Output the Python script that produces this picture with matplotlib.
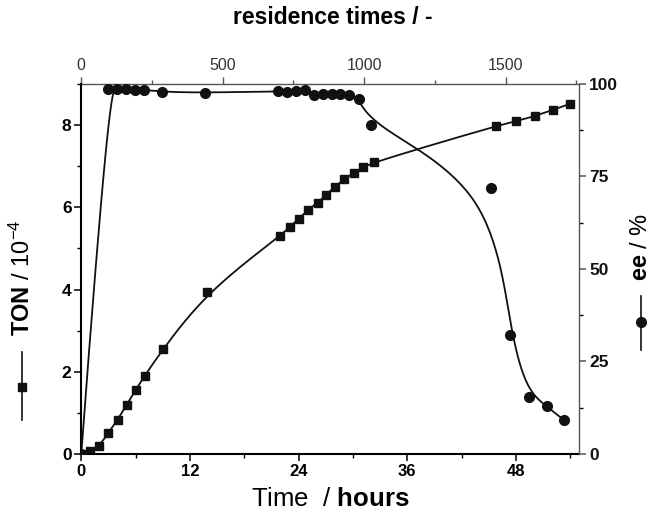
import numpy as np
import matplotlib

matplotlib.use("Agg")
import matplotlib.pyplot as plt  # noqa: E402
from matplotlib.lines import Line2D  # noqa: E402
from matplotlib.ticker import MultipleLocator  # noqa: E402

plt.rcParams["font.family"] = "Liberation Sans"
plt.rcParams["mathtext.fontset"] = "custom"
plt.rcParams["mathtext.rm"] = "Liberation Sans"
plt.rcParams["mathtext.bf"] = "Liberation Sans:bold"
plt.rcParams["mathtext.it"] = "Liberation Sans:italic"

# --- данные ---
ton_time = [0, 1.0, 2.0, 3.0, 4.0, 5.0, 6.0, 7.0, 9.0, 13.9,
            22.0, 23.0, 24.0, 25.0, 26.1, 27.0, 28.0, 29.0, 30.1, 31.1, 32.3,
            45.8, 48.0, 50.1, 52.1, 54.0]
ton = [0, 0.07, 0.19, 0.52, 0.83, 1.19, 1.56, 1.90, 2.55, 3.95,
       5.31, 5.52, 5.72, 5.94, 6.11, 6.30, 6.50, 6.68, 6.84, 6.97, 7.10,
       7.98, 8.09, 8.22, 8.37, 8.52]

ee_time = [0, 3.0, 3.9, 4.9, 5.9, 6.9, 8.9, 13.7,
           21.7, 22.7, 23.7, 24.7, 25.7, 26.7, 27.7, 28.6, 29.6, 30.7,
           32.0, 45.3, 47.4, 49.4, 51.4, 53.3]
ee = [0, 98.6, 98.7, 98.6, 98.4, 98.4, 97.9, 97.6,
      98.1, 97.8, 98.1, 98.4, 97.1, 97.4, 97.4, 97.2, 97.0, 96.0,
      88.9, 72.0, 32.1, 15.5, 13.0, 9.2]

x_ticks = [0, 12, 24, 36, 48]
ton_ticks = [0, 2, 4, 6, 8]
ee_ticks = [0, 25, 50, 75, 100]
res_ticks = [0, 500, 1000, 1500]
RES_PER_HOUR = 32.0  # пересчёт часов в residence times


def bspline(x, y, k=3, num=600):
    """Кубический B-сплайн (как 'B-Spline' в Origin): точки - контрольные."""
    P = np.column_stack([x, y]).astype(float)
    n = len(P)
    t = np.concatenate([np.zeros(k + 1), np.arange(1, n - k), np.full(k + 1, n - k)]).astype(float)
    u = np.linspace(0, n - k, num)
    N = np.zeros((len(t) - 1, num))
    for i in range(len(t) - 1):
        N[i] = (t[i] <= u) & (u < t[i + 1])
    N[n - 1, -1] = 1.0
    for p in range(1, k + 1):
        M = np.zeros((len(t) - 1 - p, num))
        for i in range(len(t) - 1 - p):
            a = t[i + p] - t[i]
            b = t[i + p + 1] - t[i + 1]
            if a > 0:
                M[i] += (u - t[i]) / a * N[i]
            if b > 0:
                M[i] += (t[i + p + 1] - u) / b * N[i + 1]
        N = M
    C = N.T @ P
    return C[:, 0], C[:, 1]


fig = plt.figure(figsize=(6.55, 5.21), dpi=100)
ax = fig.add_axes([0.1241, 0.1286, 0.7603, 0.7102])
ax2 = ax.twinx()

ax.plot(*bspline(ton_time, ton), color="#111111", lw=1.3)
ax.plot(ton_time, ton, "s", color="#111111", ms=6)
ax2.plot(*bspline(ee_time, ee), color="#111111", lw=1.3)
ax2.plot(ee_time, ee, "o", color="#111111", ms=7)

ax.set_xlim(0, 55)
ax.set_ylim(0, 9.0)
ax2.set_ylim(0, 100)

ax.set_xticks(x_ticks)
ax.set_xticklabels([str(v) for v in x_ticks], fontweight="bold", fontsize=12)
ax.xaxis.set_minor_locator(MultipleLocator(6))
ax.set_yticks(ton_ticks)
ax.set_yticklabels([str(v) for v in ton_ticks], fontweight="bold", fontsize=12.5)
ax.yaxis.set_minor_locator(MultipleLocator(1))
ax2.set_yticks(ee_ticks)
ax2.set_yticklabels([str(v) for v in ee_ticks], fontweight="bold", fontsize=12.5)
ax2.yaxis.set_minor_locator(MultipleLocator(12.5))

for a in (ax, ax2):
    a.tick_params(which="major", direction="out", length=5, width=1.1, pad=2)
    a.tick_params(which="minor", direction="out", length=3, width=1.0)

# рамка: слева и снизу чёрная и толще, справа и сверху серая
ax.spines["top"].set_visible(False)
ax.spines["right"].set_visible(False)
ax.spines["left"].set_linewidth(1.5)
ax.spines["bottom"].set_linewidth(1.5)
for s in ("top", "left", "bottom"):
    ax2.spines[s].set_visible(False)
ax2.spines["right"].set_color("#555555")
ax2.spines["right"].set_linewidth(1.0)
ax2.tick_params(axis="y", colors="#555555", labelcolor="#111111")

# верхняя ось residence times
top = ax.secondary_xaxis("top", functions=(lambda h: h * RES_PER_HOUR, lambda r: r / RES_PER_HOUR))
top.set_xticks(res_ticks)
top.set_xticklabels([str(v) for v in res_ticks], fontsize=11.5, color="#333333")
top.xaxis.set_minor_locator(MultipleLocator(250))
top.spines["top"].set_color("#555555")
top.spines["top"].set_linewidth(1.0)
top.tick_params(which="major", direction="out", length=5, width=1.0, colors="#555555",
                labelcolor="#333333", pad=3)
top.tick_params(which="minor", direction="out", length=3, width=1.0, colors="#555555")

# подписи осей
fig.text(333 / 655, 1 - 18 / 521, "residence times / -", fontsize=16.5, fontweight="bold",
         ha="center", va="center")
fig.text(330 / 655, 1 - 499 / 521, r"Time  / $\mathbf{hours}$", fontsize=18.5,
         ha="center", va="center")
fig.text(22 / 655, 1 - 278 / 521, r"$\mathbf{TON}$ / 10$^{-4}$", fontsize=17,
         rotation=90, ha="center", va="center")
fig.text(641 / 655, 1 - 247 / 521, r"$\mathbf{ee}$ / %", fontsize=17,
         rotation=90, ha="center", va="center")

# значки-легенды рядом с подписями осей
fig.add_artist(Line2D([22 / 655, 22 / 655], [1 - 352 / 521, 1 - 420 / 521],
                      transform=fig.transFigure, color="#111111", lw=1.2))
fig.add_artist(Line2D([22 / 655], [1 - 387 / 521], transform=fig.transFigure,
                      marker="s", ms=6, color="#111111"))
fig.add_artist(Line2D([641 / 655, 641 / 655], [1 - 296 / 521, 1 - 350 / 521],
                      transform=fig.transFigure, color="#111111", lw=1.2))
fig.add_artist(Line2D([641 / 655], [1 - 322 / 521], transform=fig.transFigure,
                      marker="o", ms=7, color="#111111"))

fig.savefig("out.png", dpi=100)
